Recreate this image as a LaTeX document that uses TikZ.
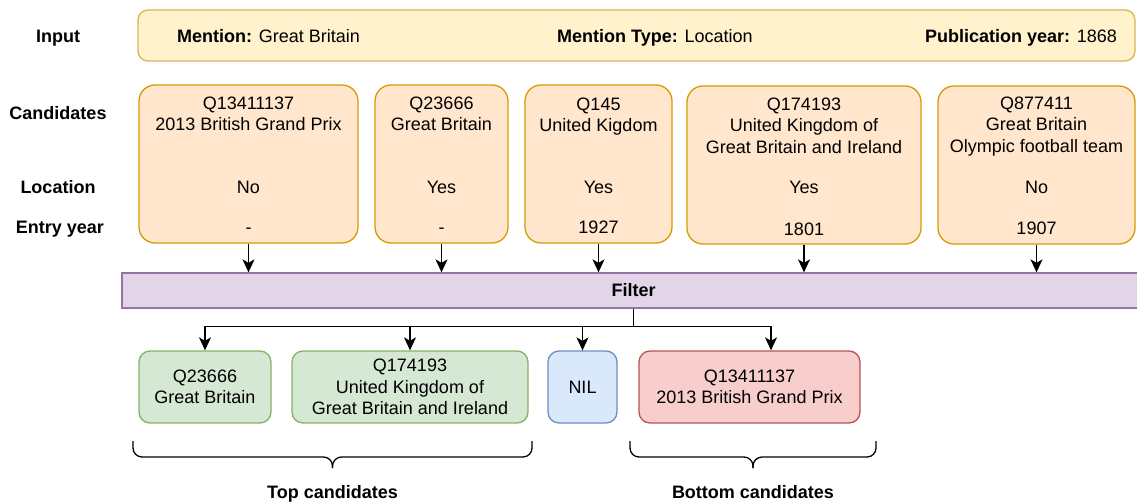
\documentclass[tikz,border=0pt]{standalone}
\usepackage{fontspec}
\setmainfont{Liberation Sans}
\usetikzlibrary{arrows.meta,calc}

\definecolor{inFill}{HTML}{FFF2CC}
\definecolor{inLine}{HTML}{D6B656}
\definecolor{candFill}{HTML}{FFE6CC}
\definecolor{candLine}{HTML}{D79B00}
\definecolor{filtFill}{HTML}{E1D5E7}
\definecolor{filtLine}{HTML}{9673A6}
\definecolor{topFill}{HTML}{D5E8D4}
\definecolor{topLine}{HTML}{82B366}
\definecolor{nilFill}{HTML}{DAE8FC}
\definecolor{nilLine}{HTML}{6C8EBF}
\definecolor{botFill}{HTML}{F8CECC}
\definecolor{botLine}{HTML}{B85450}

\begin{document}
\begin{tikzpicture}[x=1pt,y=1pt,
  every node/.style={font=\fontsize{18}{21.5}\selectfont,inner sep=0pt,align=center},
  lab/.style={font=\bfseries\fontsize{18}{21.5}\selectfont},
  cand/.style={draw=candLine,fill=candFill,line width=1.3pt,rounded corners=16pt,minimum height=158pt},
  res/.style={line width=1.3pt,rounded corners=11pt,minimum height=72pt},
  arr/.style={-{Stealth[length=13pt,width=12pt,inset=3.5pt]},line width=1.3pt},
  brc/.style={line width=1.3pt,rounded corners=9pt}]
\useasboundingbox (0,0) rectangle (1137,-503);

\node[lab,anchor=base] (lInput) at (58,-42.5) {Input};
\node[lab,anchor=base] (lCand) at (58,-119.5) {Candidates};
\node[lab,anchor=base] (lLoc) at (58,-193.5) {Location};
\node[lab,anchor=base] (lYear) at (60,-233.5) {Entry year};

\node[draw=inLine,fill=inFill,line width=1.3pt,rounded corners=10pt,minimum width=997pt,minimum height=51pt] (input) at (636.5,-35.5) {};
\node[anchor=base west] (mention) at (177,-42.5) {\textbf{Mention:} Great Britain};
\node[anchor=base west] (mtype) at (557,-42.5) {\textbf{Mention Type:} Location};
\node[anchor=base east] (pubyear) at (1117,-42.5) {\textbf{Publication year:} 1868};

\node[cand,minimum width=219pt] (c1) at (248.5,-164) {};
\node[cand,minimum width=133pt] (c2) at (441.5,-164) {};
\node[cand,minimum width=147pt] (c3) at (598.5,-164) {};
\node[cand,minimum width=234pt] (c4) at (804,-165) {};
\node[cand,minimum width=197pt] (c5) at (1036.5,-165) {};

\node[anchor=north] (c1name) at (248.5,-96.5) {Q13411137\\2013 British Grand Prix};
\node[anchor=north] (c2name) at (441.5,-96.5) {Q23666\\Great Britain};
\node[anchor=north] (c3name) at (598.5,-97.5) {Q145\\United Kigdom};
\node[anchor=north] (c4name) at (804,-97.5) {Q174193\\United Kingdom of\\Great Britain and Ireland};
\node[anchor=north] (c5name) at (1036.5,-96.5) {Q877411\\Great Britain\\Olympic football team};

\node[anchor=base] (c1loc) at (248.5,-193.5) {No};
\node[anchor=base] (c2loc) at (441.5,-193.5) {Yes};
\node[anchor=base] (c3loc) at (598.5,-193.5) {Yes};
\node[anchor=base] (c4loc) at (804,-193.5) {Yes};
\node[anchor=base] (c5loc) at (1036.5,-193.5) {No};

\node[anchor=base] (c1year) at (248.5,-233.5) {-};
\node[anchor=base] (c2year) at (441.5,-233.5) {-};
\node[anchor=base] (c3year) at (598.5,-233.5) {1927};
\node[anchor=base] (c4year) at (804,-235.5) {1801};
\node[anchor=base] (c5year) at (1036.5,-234.5) {1907};

\node[draw=filtLine,fill=filtFill,line width=1.3pt,minimum width=1023pt,minimum height=35pt,lab] (filter) at (633.5,-290.5) {Filter};

\foreach \c in {c1,c2,c3,c4,c5}
  \draw[arr] (\c.south) -- (\c.south |- filter.north);

\node[res,draw=topLine,fill=topFill,minimum width=132pt] (g1) at (205,-387) {Q23666\\Great Britain};
\node[res,draw=topLine,fill=topFill,minimum width=236pt] (g2) at (410,-387) {Q174193\\United Kingdom of\\Great Britain and Ireland};
\node[res,draw=nilLine,fill=nilFill,minimum width=69pt] (nil) at (582.5,-387) {NIL};
\node[res,draw=botLine,fill=botFill,minimum width=221pt] (red) at (749.5,-387) {Q13411137\\2013 British Grand Prix};

\draw[line width=1.3pt] (filter.south) -- ++(0,-18) coordinate (split);
\draw[arr] (split) -| (g1.north);
\draw[arr] (split) -| (g2.north);
\draw[arr] (split) -| (nil.north);
\draw[arr] (split) -| ($(red.north)+(21.5,0)$);

\coordinate (topL) at (133,-441);
\coordinate (topR) at (532,-441);
\coordinate (topM) at (332.5,-457);
\coordinate (botL) at (630,-441);
\coordinate (botR) at (876,-441);
\coordinate (botM) at (753,-457);
\draw[brc] (topL) |- (topM) -- ++(0,-11);
\draw[brc] (topR) |- (topM) -- ++(0,-11);
\draw[brc] (botL) |- (botM) -- ++(0,-11);
\draw[brc] (botR) |- (botM) -- ++(0,-11);
\node[lab,anchor=base] (topLab) at (332.5,-498.5) {Top candidates};
\node[lab,anchor=base] (botLab) at (753,-498.5) {Bottom candidates};
\end{tikzpicture}
\end{document}
